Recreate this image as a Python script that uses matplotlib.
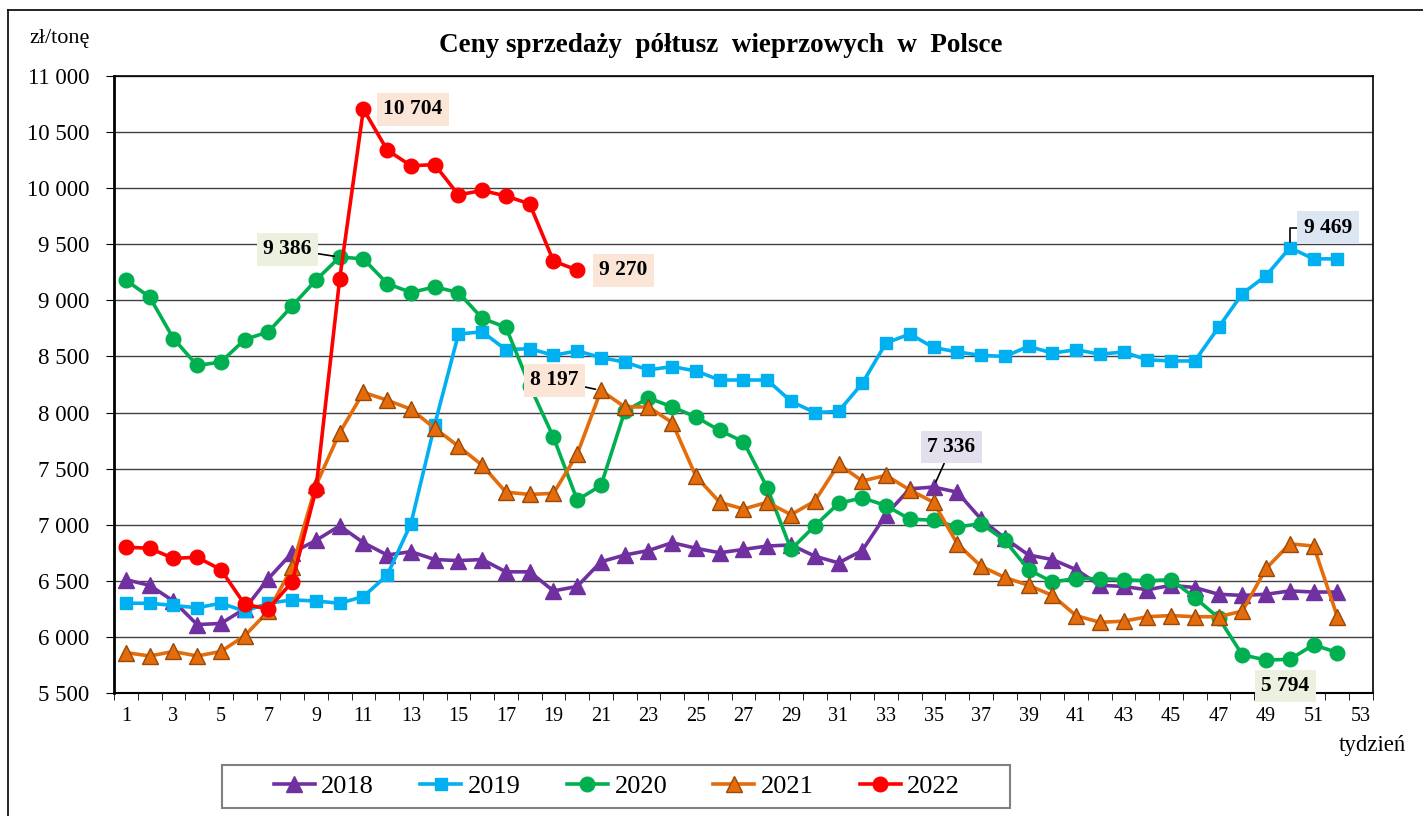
import numpy as np
import matplotlib
matplotlib.use('Agg')
import matplotlib.pyplot as plt
from matplotlib.ticker import FuncFormatter, FixedLocator
from matplotlib.lines import Line2D
from matplotlib.patches import Rectangle

plt.rcParams['font.family'] = ['Liberation Serif', 'DejaVu Serif']

weeks = np.arange(1, 53)

y2018 = [6510, 6460, 6320, 6110, 6120, 6250, 6520, 6750, 6860, 6990, 6840, 6730, 6760, 6690, 6680, 6690, 6580,
         6580, 6410, 6450, 6670, 6730, 6770, 6840, 6790, 6750, 6780, 6810, 6820, 6720, 6660, 6770, 7090, 7320,
         7336, 7290, 7050, 6880, 6730, 6690, 6600, 6460, 6450, 6420, 6460, 6440, 6380, 6370, 6380, 6410, 6400, 6400]
y2019 = [6300, 6300, 6280, 6260, 6300, 6230, 6300, 6330, 6320, 6300, 6360, 6550, 7010, 7890, 8700, 8720, 8560,
         8570, 8510, 8550, 8490, 8450, 8380, 8410, 8370, 8290, 8290, 8290, 8100, 8000, 8010, 8260, 8620, 8700,
         8580, 8540, 8510, 8500, 8590, 8530, 8560, 8520, 8540, 8470, 8460, 8460, 8760, 9060, 9220, 9469, 9370, 9370]
y2020 = [9180, 9030, 8660, 8420, 8450, 8650, 8720, 8950, 9180, 9386, 9370, 9150, 9070, 9120, 9070, 8840, 8760,
         8240, 7780, 7220, 7350, 8010, 8130, 8050, 7960, 7840, 7740, 7330, 6780, 6990, 7190, 7240, 7170, 7050,
         7040, 6980, 7010, 6860, 6600, 6490, 6520, 6520, 6510, 6500, 6510, 6350, 6170, 5840, 5794, 5800, 5930, 5860]
y2021 = [5860, 5830, 5870, 5830, 5870, 6010, 6230, 6620, 7350, 7820, 8180, 8110, 8030, 7860, 7700, 7530, 7290,
         7270, 7280, 7630, 8197, 8050, 8050, 7910, 7430, 7200, 7140, 7200, 7090, 7210, 7540, 7390, 7440, 7310,
         7200, 6830, 6630, 6530, 6460, 6370, 6190, 6130, 6140, 6180, 6190, 6180, 6180, 6230, 6610, 6830, 6810, 6180]
weeks2022 = np.arange(1, 21)
y2022 = [6800, 6790, 6700, 6710, 6600, 6290, 6250, 6490, 7310, 9190, 10704, 10340, 10200, 10210, 9940, 9980,
         9930, 9860, 9350, 9270]

W, H = 1423, 816
fig = plt.figure(figsize=(W / 100, H / 100), dpi=100)
ax = fig.add_axes([114 / W, 1 - 693 / H, (1373 - 114) / W, (693 - 76) / H])

# outer frame of the chart area
fig.add_artist(Line2D([8 / W, 8 / W], [0, 1 - 10 / H], color='black', lw=1.2, transform=fig.transFigure))
fig.add_artist(Line2D([8 / W, 1], [1 - 10 / H, 1 - 10 / H], color='black', lw=1.2, transform=fig.transFigure))

lw = 2.6
ax.plot(weeks, y2018, color='#7030A0', lw=lw, marker='^', ms=11, mfc='#7030A0', mec='#7030A0', label='2018', zorder=3)
ax.plot(weeks, y2019, color='#00B0F0', lw=lw, marker='s', ms=9, mfc='#00B0F0', mec='#00B0F0', label='2019', zorder=3)
ax.plot(weeks, y2020, color='#00B050', lw=lw, marker='o', ms=10.5, mfc='#00B050', mec='#00B050', label='2020', zorder=3)
ax.plot(weeks, y2021, color='#E46C0A', lw=lw, marker='^', ms=11, mfc='#E46C0A', mec='#984807', mew=1.0, label='2021', zorder=3)
ax.plot(weeks2022, y2022, color='#FF0000', lw=lw, marker='o', ms=10.5, mfc='#FF0000', mec='#FF0000', label='2022', zorder=3)

ax.set_xlim(0.5, 53.5)
ax.set_ylim(5500, 11000)
ax.set_yticks(np.arange(5500, 11001, 500))
ax.yaxis.set_major_formatter(FuncFormatter(lambda v, p: '{:,.0f}'.format(v).replace(',', ' ')))
ax.set_xticks(np.arange(1, 54, 2))
ax.xaxis.set_minor_locator(FixedLocator(np.arange(0.5, 54, 1)))
ax.tick_params(axis='x', which='major', length=0, labelsize=14.5, pad=10)
ax.tick_params(axis='x', which='minor', length=5, direction='out', color='black')
ax.tick_params(axis='y', length=6, direction='out', labelsize=16.5, pad=12)
ax.grid(axis='y', color='#404040', lw=1.0)
ax.set_axisbelow(True)
for s in ax.spines.values():
    s.set_color('black')
    s.set_linewidth(1.2)
ax.spines['left'].set_linewidth(2)
ax.spines['bottom'].set_linewidth(1.5)

fig.text(721 / W, 1 - 46 / H, 'Ceny sprzedaży  półtusz  wieprzowych  w  Polsce', ha='center', va='center',
         fontsize=19.5, fontweight='bold')
fig.text(60 / W, 1 - 38 / H, 'zł/tonę', ha='center', va='center', fontsize=16)
fig.text(1372 / W, 1 - 745 / H, 'tydzień', ha='center', va='center', fontsize=16.5)

peach = '#FBE5D6'
green_bg = '#EBF1DE'
lav = '#E4DFEC'
blue_bg = '#DCE6F2'


def label(x, y, text, dx, dy, ha, fc, leader=False, conn='arc3'):
    arrow = None
    if leader:
        arrow = dict(arrowstyle='-', color='black', lw=1.2, shrinkA=0, shrinkB=4, connectionstyle=conn)
    ax.annotate(text, xy=(x, y), xytext=(dx, dy), textcoords='offset pixels', ha=ha, va='center',
                fontsize=15.5, fontweight='bold', arrowprops=arrow,
                bbox=dict(boxstyle='square,pad=0.3', fc=fc, ec='none'), zorder=5)


label(11, y2022[10], '10 704', 20, 0, 'left', peach)
label(20, y2022[19], '9 270', 22, 0, 'left', peach)
label(10, y2020[9], '9 386', -28, 8, 'right', green_bg, leader=True)
label(21, y2021[20], '8 197', -22, 10, 'right', peach, leader=True)
label(35, y2018[34], '7 336', 18, 40, 'center', lav, leader=True)
label(50, y2019[49], '9 469', 14, 20, 'left', blue_bg, leader=True, conn='angle,angleA=0,angleB=90,rad=0')
label(49, y2020[48], '5 794', 19, -26, 'center', green_bg)

# legend box is wider than the entries, so draw its frame separately
fig.add_artist(Rectangle((222 / W, 1 - 808 / H), (1010 - 222) / W, 43 / H, transform=fig.transFigure,
                         fill=False, edgecolor='#808080', lw=1.5))
leg = fig.legend(loc='center', bbox_to_anchor=(617 / W, 1 - 786.5 / H), ncol=5, fontsize=19, frameon=False,
                 handlelength=1.55, columnspacing=1.75, handletextpad=0.25, borderpad=0.35, borderaxespad=0)

fig.savefig('out.png', dpi=100)
